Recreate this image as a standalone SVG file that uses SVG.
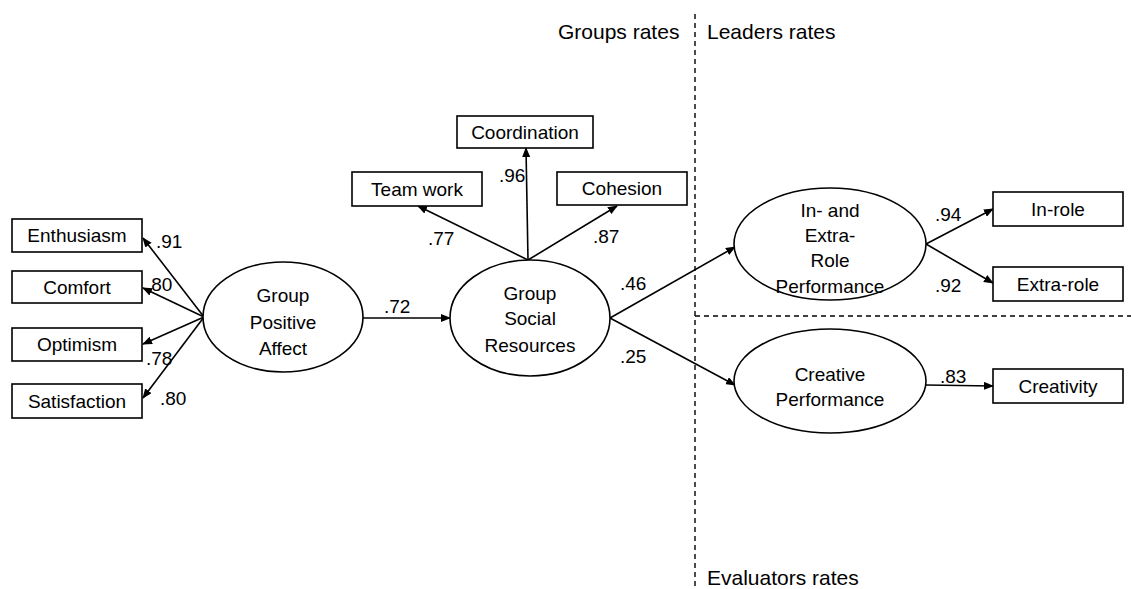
<svg xmlns="http://www.w3.org/2000/svg" width="1131" height="589" viewBox="0 0 1131 589">
<style>
.box{fill:#fff;stroke:#000;stroke-width:1.6}
.ell{fill:#fff;stroke:#000;stroke-width:1.6}
.t{font-family:"Liberation Sans",Arial,sans-serif;font-size:19px;fill:#000;text-anchor:middle}
.l{font-family:"Liberation Sans",Arial,sans-serif;font-size:19px;fill:#000}
.h{font-family:"Liberation Sans",Arial,sans-serif;font-size:21px;fill:#000}
.c{stroke:#000;stroke-width:1.6;fill:none;marker-end:url(#ah)}
.d{stroke:#000;stroke-width:1.4;stroke-dasharray:5,4;fill:none}
</style>
<defs>
<marker id="ah" markerUnits="userSpaceOnUse" markerWidth="10" markerHeight="8" refX="9" refY="4" orient="auto">
<path d="M0,0 L10,4 L0,8 Z" fill="#000"/>
</marker>
</defs>
<rect width="1131" height="589" fill="#fff"/>
<g id="dividers">
<line class="d" x1="695" y1="14" x2="695" y2="589"/>
<line class="d" x1="695" y1="316" x2="1131" y2="316"/>
<text class="h" x="558" y="39">Groups rates</text>
<text class="h" x="707" y="39">Leaders rates</text>
<text class="h" x="707" y="585">Evaluators rates</text>
</g>
<g id="connectors">
<line class="c" x1="204" y1="317" x2="143" y2="238"/>
<line class="c" x1="204" y1="317" x2="143" y2="288"/>
<line class="c" x1="204" y1="317" x2="143" y2="344"/>
<line class="c" x1="204" y1="317" x2="143" y2="398"/>
<line class="c" x1="363" y1="318" x2="450" y2="318"/>
<line class="c" x1="528" y1="260" x2="526" y2="148"/>
<line class="c" x1="528" y1="260" x2="418" y2="206"/>
<line class="c" x1="528" y1="260" x2="617" y2="206"/>
<line class="c" x1="610" y1="318" x2="735" y2="247"/>
<line class="c" x1="610" y1="318" x2="735" y2="385"/>
<line class="c" x1="926" y1="244" x2="993" y2="209"/>
<line class="c" x1="926" y1="244" x2="993" y2="283"/>
<line class="c" x1="926" y1="385" x2="993" y2="386"/>
</g>
<g id="labels">
<text class="l" x="156" y="248">.91</text>
<text class="l" x="146" y="291">.80</text>
<text class="l" x="146" y="365">.78</text>
<text class="l" x="160" y="405">.80</text>
<text class="l" x="384" y="313">.72</text>
<text class="l" x="499" y="182">.96</text>
<text class="l" x="428" y="245">.77</text>
<text class="l" x="593" y="243">.87</text>
<text class="l" x="620" y="290">.46</text>
<text class="l" x="620" y="363">.25</text>
<text class="l" x="935" y="221">.94</text>
<text class="l" x="935" y="292">.92</text>
<text class="l" x="940" y="383">.83</text>
</g>
<g id="enthusiasm"><rect class="box" x="12" y="219" width="130" height="33"/><text class="t" x="77" y="242">Enthusiasm</text></g>
<g id="comfort"><rect class="box" x="12" y="271" width="130" height="32"/><text class="t" x="77" y="294">Comfort</text></g>
<g id="optimism"><rect class="box" x="12" y="328" width="130" height="33"/><text class="t" x="77" y="351">Optimism</text></g>
<g id="satisfaction"><rect class="box" x="12" y="384" width="130" height="34"/><text class="t" x="77" y="408">Satisfaction</text></g>
<g id="gpa"><ellipse class="ell" cx="283" cy="317" rx="80" ry="55"/>
<text class="t" x="283" y="302">Group</text><text class="t" x="283" y="329">Positive</text><text class="t" x="283" y="355">Affect</text></g>
<g id="gsr"><ellipse class="ell" cx="530" cy="318" rx="80" ry="58"/>
<text class="t" x="530" y="300">Group</text><text class="t" x="530" y="325">Social</text><text class="t" x="530" y="352">Resources</text></g>
<g id="coordination"><rect class="box" x="457" y="116" width="136" height="32"/><text class="t" x="525" y="139">Coordination</text></g>
<g id="teamwork"><rect class="box" x="352" y="172" width="130" height="34"/><text class="t" x="417" y="196">Team work</text></g>
<g id="cohesion"><rect class="box" x="557" y="172" width="130" height="33"/><text class="t" x="622" y="195">Cohesion</text></g>
<g id="ierp"><ellipse class="ell" cx="830" cy="244" rx="96" ry="56"/>
<text class="t" x="830" y="217">In- and</text><text class="t" x="830" y="242">Extra-</text><text class="t" x="830" y="267">Role</text><text class="t" x="830" y="293">Performance</text></g>
<g id="cp"><ellipse class="ell" cx="830" cy="381" rx="96" ry="52"/>
<text class="t" x="830" y="381">Creative</text><text class="t" x="830" y="406">Performance</text></g>
<g id="inrole"><rect class="box" x="993" y="192" width="130" height="34"/><text class="t" x="1058" y="216">In-role</text></g>
<g id="extrarole"><rect class="box" x="993" y="267" width="130" height="34"/><text class="t" x="1058" y="291">Extra-role</text></g>
<g id="creativity"><rect class="box" x="993" y="369" width="130" height="34"/><text class="t" x="1058" y="393">Creativity</text></g>
</svg>
